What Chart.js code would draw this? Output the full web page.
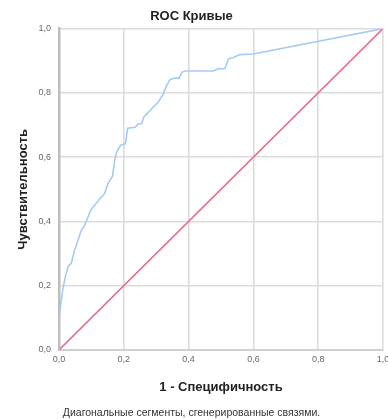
<!DOCTYPE html>
<html>
<head>
<meta charset="utf-8">
<script src="https://cdn.jsdelivr.net/npm/chart.js@4"></script>
<style>
html,body{margin:0;padding:0;background:#fff;}
canvas{display:block;}
</style>
</head>
<body>
<canvas id="c" width="388" height="420"></canvas>
<script>
// Data
const rocFpr = [0,0,0.005,0.012,0.02,0.028,0.038,0.048,0.058,0.068,0.08,0.088,0.098,0.11,0.125,0.14,0.152,0.165,0.172,0.178,0.19,0.205,0.212,0.235,0.245,0.255,0.262,0.276,0.291,0.306,0.322,0.332,0.343,0.358,0.371,0.379,0.39,0.476,0.492,0.512,0.523,0.538,0.559,0.6,1];
const rocTpr = [0,0.09,0.14,0.19,0.23,0.26,0.27,0.31,0.34,0.37,0.39,0.41,0.435,0.45,0.47,0.485,0.52,0.54,0.59,0.616,0.637,0.642,0.69,0.693,0.704,0.704,0.725,0.74,0.756,0.771,0.797,0.823,0.842,0.846,0.846,0.864,0.868,0.868,0.875,0.875,0.906,0.91,0.919,0.921,1];
const diagX = [0,1];
const diagY = [0,1];
const tickValues = [0,0.2,0.4,0.6,0.8,1.0];
const titleText = 'ROC Кривые';
const xTitle = '1 - Специфичность';
const yTitle = 'Чувствительность';
const footText = 'Диагональные сегменты, сгенерированные связями.';

const FONT = 'Arial, "Liberation Sans", sans-serif';
const fmt = v => Number(v).toFixed(1).replace('.', ',');

new Chart(document.getElementById('c'), {
  type: 'scatter',
  data: {
    datasets: [
      {
        data: rocFpr.map((x,i)=>({x, y: rocTpr[i]})),
        showLine: true, borderColor: 'rgb(166,202,244)', borderWidth: 1.6,
        pointRadius: 0, tension: 0, fill: false
      },
      {
        data: diagX.map((x,i)=>({x, y: diagY[i]})),
        showLine: true, borderColor: 'rgb(232,112,138)', borderWidth: 1.6,
        pointRadius: 0, tension: 0, fill: false
      }
    ]
  },
  options: {
    responsive: false,
    animation: false,
    devicePixelRatio: 1,
    layout: { padding: { left: 0, right: 5, top: 0, bottom: 0 } },
    plugins: {
      legend: { display: false },
      tooltip: { enabled: false },
      title: {
        display: true, text: titleText, color: '#222',
        font: { family: FONT, size: 13, weight: 'bold' },
        padding: { top: 9, bottom: 4 }
      },
      subtitle: {
        display: true, text: footText, position: 'bottom', color: '#333',
        font: { family: FONT, size: 10.5 },
        padding: { top: 3, bottom: 1 }
      }
    },
    scales: {
      x: {
        type: 'linear', min: 0, max: 1,
        afterBuildTicks: s => { s.ticks = tickValues.map(v => ({ value: v })); },
        ticks: { callback: fmt, color: '#666', font: { family: FONT, size: 9 }, padding: 4, maxRotation: 0 },
        grid: { color: '#dcdcdc', lineWidth: 1.6, drawTicks: false },
        border: { color: '#cfcfcf', width: 2 },
        title: { display: true, text: xTitle, color: '#222', font: { family: FONT, size: 13, weight: 'bold' }, padding: { top: 0, bottom: 8.5 } },
        afterFit: s => { s.height = 53.4; s.paddingLeft = 0; s.paddingRight = 0; }
      },
      y: {
        type: 'linear', min: 0, max: 1,
        afterBuildTicks: s => { s.ticks = tickValues.map(v => ({ value: v })); },
        ticks: { callback: fmt, color: '#666', font: { family: FONT, size: 9 }, padding: 8 },
        grid: { color: '#dcdcdc', lineWidth: 1.6, drawTicks: false },
        border: { color: '#bdbdbd', width: 2.5 },
        title: { display: true, text: yTitle, color: '#222', font: { family: FONT, size: 13, weight: 'bold' }, padding: { top: 15.5, bottom: 0 } },
        afterFit: s => { s.width = 59; s.paddingTop = 0; s.paddingBottom = 0; }
      }
    }
  }
});
</script>
</body>
</html>
